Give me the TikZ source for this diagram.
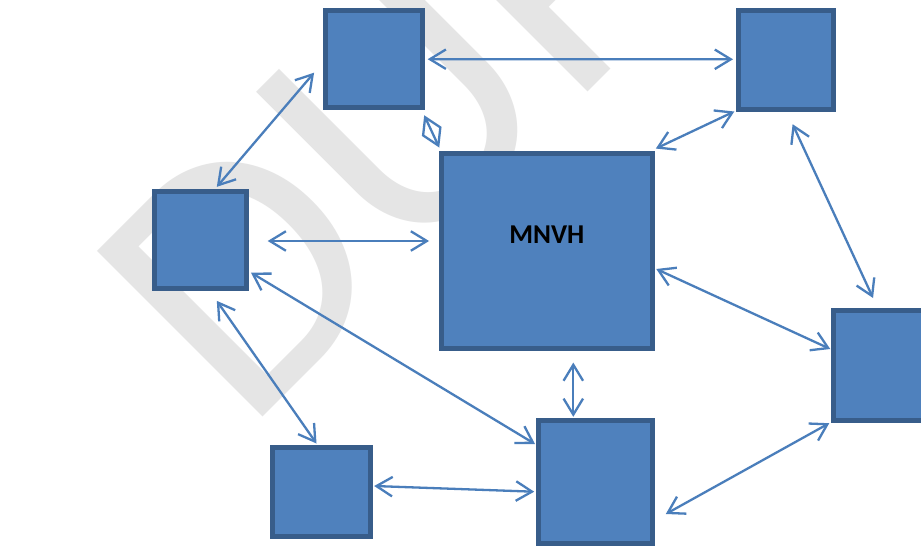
\documentclass[tikz,border=0pt]{standalone}
\usepackage{fontspec}
\setmainfont{Carlito}
\usetikzlibrary{arrows.meta}
\definecolor{boxfill}{RGB}{79,129,189}
\definecolor{boxline}{RGB}{56,93,138}
\definecolor{arrowblue}{RGB}{74,126,187}
\definecolor{wmgray}{RGB}{229,229,229}
\tikzset{
  blk/.style={rectangle, fill=boxfill, draw=boxline, line width=5pt, inner sep=0pt},
  conn/.style={draw=arrowblue, line width=2.3pt,
    {Straight Barb[length=16pt,width=19.5pt]}-{Straight Barb[length=16pt,width=19.5pt]}},
}
\begin{document}
\begin{tikzpicture}[x=1pt,y=-1pt]
\useasboundingbox (0,0) rectangle (921,546);
\fill[white] (0,0) rectangle (921,546);
\clip (0,0) rectangle (921,546);
% watermark
\node[anchor=base west, rotate=45, inner sep=0pt, text=wmgray,
      font=\fontsize{365}{365}\selectfont] (wm) at (245.4,434.6) {DUP};
% boxes
\node[blk, minimum width=97pt, minimum height=96.7pt] (A) at (374,59.2) {};
\node[blk, minimum width=95pt, minimum height=98.4pt] (B) at (785.5,60) {};
\node[blk, minimum width=92pt, minimum height=96.7pt] (C) at (200.8,240.2) {};
\node[blk, minimum width=210.5pt, minimum height=194.7pt] (M) at (546.8,250.9) {};
\node[blk, minimum width=106.5pt, minimum height=109.4pt] (R) at (886.8,365.5) {};
\node[blk, minimum width=98pt, minimum height=89pt] (D) at (321.5,492) {};
\node[blk, minimum width=114pt, minimum height=123pt] (E) at (595.5,482) {};
\node[inner sep=0pt] (lbl) at (546.8,234.7) {\resizebox{75pt}{!}{\bfseries MNVH}};
% connectors
\draw[conn] ([shift={(2.7,0)}]A.east) -- ([shift={(-2.5,-0.7)}]B.west);
\draw[conn] ([shift={(-0.8,5.2)}]A.south east) -- ([shift={(0.2,-3.5)}]M.north west);
\draw[conn] ([shift={(-8.9,13.5)}]A.west) -- ([shift={(16,-2.5)}]C.north);
\draw[conn] ([shift={(-1.2,-0.2)}]B.south west) -- ([shift={(1.3,-2.5)}]M.north east);
\draw[conn] ([shift={(7.1,12.5)}]B.south) -- ([shift={(42,-10.3)}]R.north west);
\draw[conn] ([shift={(18.4,0.8)}]C.east) -- ([shift={(-10,-9.9)}]M.west);
\draw[conn] ([shift={(1.6,-18.5)}]C.south east) -- ([shift={(-1,26)}]E.north west);
\draw[conn] ([shift={(16,9.8)}]C.south) -- ([shift={(-5,-1.5)}]D.north);
\draw[conn] ([shift={(26.5,11.8)}]M.south) -- ([shift={(-22.2,-1.2)}]E.north);
\draw[conn] ([shift={(1.7,18.1)}]M.east) -- ([shift={(-0.8,-16.5)}]R.west);
\draw[conn] ([shift={(1.2,-6)}]D.east) -- ([shift={(-1.8,9.7)}]E.west);
\draw[conn] ([shift={(-1.8,0.5)}]R.south west) -- ([shift={(10.8,32)}]E.east);
\end{tikzpicture}
\end{document}
